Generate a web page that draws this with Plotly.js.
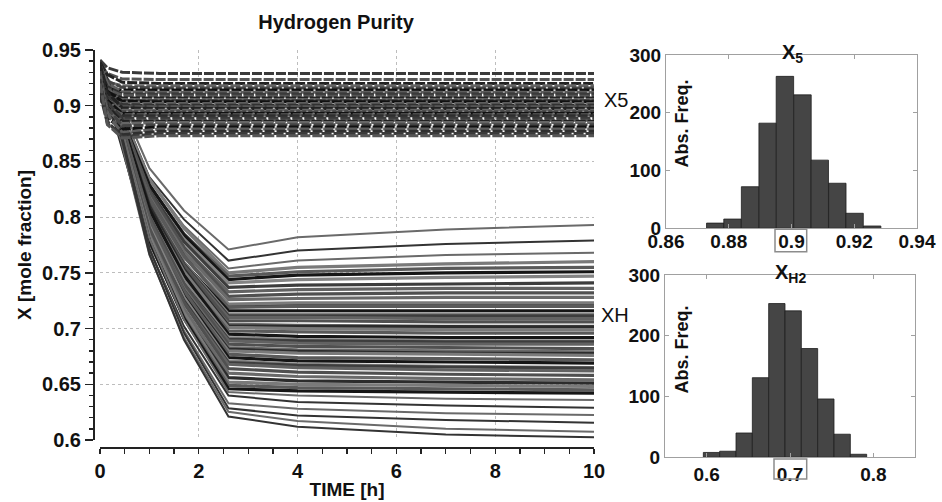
<!DOCTYPE html>
<html>
<head>
<meta charset="utf-8">
<script src="https://cdn.plot.ly/plotly-3.0.1.min.js"></script>
<style>html,body{margin:0;padding:0;background:#fff;}#chart{width:942px;height:502px;}</style>
</head>
<body>
<div id="chart"></div>
<script>
// ---------- DATA ----------
const chartTitle = 'Hydrogen Purity';
const xTitle = 'TIME [h]';
const yTitle = 'X [mole fraction]';
const xTicks = [0, 2, 4, 6, 8, 10];
const yTicks = [0.6, 0.65, 0.7, 0.75, 0.8, 0.85, 0.9, 0.95];
const seriesLabels = ['X5', 'XH'];
const seriesLabelY = [0.905, 0.712];

// XH2 trajectories (hydrogen mole fraction vs time)
const timeH2 = [0, 0.3, 1, 1.7, 2.6, 4, 7, 10];
const xh2Runs = [
  [0.935, 0.915, 0.844, 0.806, 0.771, 0.782, 0.789, 0.793],
  [0.930, 0.910, 0.836, 0.798, 0.761, 0.770, 0.776, 0.779],
  [0.926, 0.905, 0.834, 0.792, 0.754, 0.761, 0.766, 0.768],
  [0.938, 0.908, 0.834, 0.790, 0.750, 0.755, 0.758, 0.760],
  [0.921, 0.899, 0.828, 0.785, 0.747, 0.751, 0.754, 0.755],
  [0.933, 0.904, 0.829, 0.784, 0.744, 0.748, 0.750, 0.751],
  [0.918, 0.896, 0.823, 0.780, 0.741, 0.744, 0.746, 0.747],
  [0.927, 0.902, 0.824, 0.778, 0.737, 0.739, 0.740, 0.741],
  [0.912, 0.893, 0.818, 0.773, 0.733, 0.735, 0.736, 0.736],
  [0.936, 0.906, 0.823, 0.773, 0.729, 0.731, 0.732, 0.732],
  [0.924, 0.899, 0.818, 0.769, 0.726, 0.727, 0.728, 0.728],
  [0.929, 0.901, 0.816, 0.765, 0.7205, 0.721, 0.7212, 0.7215],
  [0.915, 0.892, 0.812, 0.764, 0.722, 0.723, 0.723, 0.723],
  [0.931, 0.903, 0.817, 0.765, 0.719, 0.720, 0.720, 0.720],
  [0.909, 0.889, 0.808, 0.759, 0.716, 0.716, 0.716, 0.716],
  [0.926, 0.898, 0.811, 0.759, 0.713, 0.713, 0.713, 0.713],
  [0.923, 0.897, 0.810, 0.758, 0.7115, 0.7115, 0.7115, 0.7115],
  [0.919, 0.894, 0.808, 0.756, 0.710, 0.710, 0.709, 0.709],
  [0.934, 0.905, 0.812, 0.756, 0.707, 0.707, 0.706, 0.706],
  [0.913, 0.890, 0.803, 0.750, 0.704, 0.703, 0.702, 0.702],
  [0.936, 0.905, 0.810, 0.753, 0.7025, 0.702, 0.7017, 0.7015],
  [0.929, 0.900, 0.806, 0.751, 0.701, 0.700, 0.699, 0.699],
  [0.917, 0.892, 0.801, 0.746, 0.698, 0.697, 0.696, 0.696],
  [0.938, 0.907, 0.807, 0.748, 0.695, 0.693, 0.692, 0.692],
  [0.921, 0.895, 0.800, 0.743, 0.692, 0.690, 0.689, 0.689],
  [0.913, 0.889, 0.796, 0.740, 0.6905, 0.689, 0.688, 0.688],
  [0.911, 0.888, 0.794, 0.739, 0.689, 0.687, 0.686, 0.686],
  [0.932, 0.903, 0.801, 0.740, 0.686, 0.684, 0.683, 0.682],
  [0.925, 0.897, 0.796, 0.736, 0.683, 0.681, 0.680, 0.679],
  [0.921, 0.893, 0.794, 0.734, 0.6815, 0.6795, 0.678, 0.6775],
  [0.914, 0.890, 0.791, 0.732, 0.680, 0.678, 0.677, 0.676],
  [0.936, 0.906, 0.798, 0.734, 0.677, 0.674, 0.673, 0.672],
  [0.920, 0.893, 0.790, 0.729, 0.674, 0.671, 0.670, 0.669],
  [0.928, 0.899, 0.792, 0.728, 0.671, 0.668, 0.666, 0.665],
  [0.917, 0.892, 0.787, 0.725, 0.6695, 0.667, 0.6655, 0.6645],
  [0.916, 0.889, 0.785, 0.723, 0.668, 0.665, 0.663, 0.662],
  [0.933, 0.902, 0.790, 0.723, 0.664, 0.661, 0.659, 0.658],
  [0.922, 0.894, 0.784, 0.718, 0.660, 0.657, 0.655, 0.654],
  [0.910, 0.886, 0.778, 0.713, 0.656, 0.653, 0.652, 0.651],
  [0.930, 0.900, 0.783, 0.714, 0.652, 0.650, 0.649, 0.648],
  [0.918, 0.892, 0.778, 0.710, 0.649, 0.647, 0.646, 0.645],
  [0.926, 0.897, 0.779, 0.709, 0.646, 0.644, 0.643, 0.642],
  [0.935, 0.903, 0.781, 0.708, 0.643, 0.640, 0.637, 0.636],
  [0.914, 0.888, 0.771, 0.702, 0.640, 0.634, 0.631, 0.629],
  [0.924, 0.895, 0.772, 0.698, 0.633, 0.628, 0.624, 0.6225],
  [0.931, 0.899, 0.772, 0.696, 0.6285, 0.622, 0.618, 0.6155],
  [0.919, 0.891, 0.766, 0.692, 0.6254, 0.617, 0.610, 0.6075],
  [0.927, 0.896, 0.767, 0.690, 0.621, 0.612, 0.605, 0.6024]
];

// X5 trajectories
const timeX5 = [0, 0.15, 0.45, 1.2, 10];
const x5Runs = [
  [0.941, 0.934, 0.930, 0.929, 0.929],
  [0.936, 0.929, 0.924, 0.9235, 0.9235],
  [0.939, 0.928, 0.921, 0.920, 0.920],
  [0.925, 0.921, 0.918, 0.918, 0.918],
  [0.933, 0.922, 0.9165, 0.916, 0.916],
  [0.918, 0.916, 0.914, 0.914, 0.914],
  [0.937, 0.920, 0.9125, 0.912, 0.912],
  [0.932, 0.917, 0.9105, 0.9105, 0.9105],
  [0.912, 0.911, 0.910, 0.910, 0.910],
  [0.930, 0.915, 0.909, 0.9085, 0.9085],
  [0.921, 0.912, 0.907, 0.907, 0.907],
  [0.917, 0.907, 0.9055, 0.9055, 0.9055],
  [0.908, 0.906, 0.905, 0.905, 0.905],
  [0.934, 0.913, 0.904, 0.9035, 0.9035],
  [0.915, 0.906, 0.902, 0.902, 0.902],
  [0.926, 0.908, 0.901, 0.9005, 0.9005],
  [0.928, 0.909, 0.900, 0.8995, 0.8995],
  [0.905, 0.901, 0.899, 0.899, 0.899],
  [0.938, 0.912, 0.898, 0.8975, 0.8975],
  [0.919, 0.903, 0.896, 0.896, 0.896],
  [0.910, 0.899, 0.8945, 0.8945, 0.8945],
  [0.929, 0.905, 0.893, 0.893, 0.893],
  [0.913, 0.900, 0.892, 0.892, 0.892],
  [0.914, 0.897, 0.891, 0.891, 0.891],
  [0.935, 0.903, 0.889, 0.889, 0.889],
  [0.907, 0.893, 0.887, 0.887, 0.887],
  [0.936, 0.899, 0.886, 0.886, 0.886],
  [0.923, 0.896, 0.884, 0.885, 0.885],
  [0.931, 0.898, 0.882, 0.883, 0.883],
  [0.916, 0.889, 0.879, 0.881, 0.881],
  [0.927, 0.892, 0.876, 0.879, 0.879],
  [0.911, 0.884, 0.874, 0.877, 0.877],
  [0.924, 0.886, 0.872, 0.875, 0.875],
  [0.920, 0.883, 0.871, 0.873, 0.873]
];

// Histograms (absolute frequency of final values)
const hist5Title = 'X<sub>5</sub>';
const hist5Centers = [0.8757, 0.8812, 0.8868, 0.8924, 0.8979, 0.9035, 0.9090, 0.9146, 0.9201, 0.9257];
const hist5Counts  = [9, 16, 72, 182, 263, 231, 118, 78, 26, 4];
const hist5XTicks = [0.86, 0.88, 0.9, 0.92, 0.94];
const histH2Title = 'X<sub>H2</sub>';
const histH2Centers = [0.6058, 0.6254, 0.6450, 0.6646, 0.6842, 0.7038, 0.7234, 0.7430, 0.7626, 0.7822];
const histH2Counts  = [8, 10, 40, 131, 253, 241, 179, 96, 38, 5];
const histH2XTicks = [0.6, 0.7, 0.8];
const histYTicks = [0, 100, 200, 300];
const histYLabel = 'Abs. Freq.';

// ---------- STYLE / LAYOUT ----------
const W = 942, H = 502;
const px = v => v / W;
const py = v => 1 - v / H;
const FONT = 'Liberation Sans, Arial, Helvetica, sans-serif';
const grays = ['#505050', '#6a6a6a', '#2c2c2c', '#7a7a7a', '#5a5a5a', '#161616', '#848484', '#3d3d3d', '#626262'];
const darkGrays = ['#3a3a3a', '#555555', '#222222', '#666666', '#444444', '#111111', '#5e5e5e', '#2f2f2f'];
const nH2 = xh2Runs.length;

const traces = [];
xh2Runs.forEach((run, i) => {
  const outlier = i < 3 || i >= nH2 - 6;
  traces.push({
    type: 'scatter', mode: 'lines', x: timeH2, y: run,
    xaxis: 'x', yaxis: 'y', showlegend: false, hoverinfo: 'skip',
    line: {color: outlier ? (i % 2 ? '#333333' : '#6a6a6a') : grays[i % grays.length], width: outlier ? 2 : 3.2}
  });
});
x5Runs.forEach((run, i) => {
  traces.push({
    type: 'scatter', mode: 'lines', x: timeX5, y: run,
    xaxis: 'x', yaxis: 'y', showlegend: false, hoverinfo: 'skip',
    line: {color: darkGrays[i % darkGrays.length], width: 3, dash: '10px,2px'}
  });
});
traces.push({
  type: 'bar', x: hist5Centers, y: hist5Counts, width: 0.00556,
  xaxis: 'x2', yaxis: 'y2', showlegend: false, hoverinfo: 'skip',
  marker: {color: '#454545', line: {color: '#1e1e1e', width: 0.8}}
});
traces.push({
  type: 'bar', x: histH2Centers, y: histH2Counts, width: 0.0196,
  xaxis: 'x3', yaxis: 'y3', showlegend: false, hoverinfo: 'skip',
  marker: {color: '#454545', line: {color: '#1e1e1e', width: 0.8}}
});

const boldTick = (s) => ({family: FONT, size: s, color: '#111', weight: 700});
const histX = (dom, range, vals, anchor, standoff) => ({
  domain: dom, anchor: anchor, range: range, tickmode: 'array', tickvals: vals,
  ticks: 'inside', ticklen: 4, tickcolor: '#a0a0a0', showline: true, linecolor: '#a0a0a0',
  linewidth: 1, mirror: 'ticks', showgrid: false, zeroline: false, tickfont: boldTick(19),
  ticklabelstandoff: standoff, fixedrange: true
});
const histY = (dom, anchor) => ({
  domain: dom, anchor: anchor, range: [0, 300], tickmode: 'array', tickvals: histYTicks,
  ticks: 'inside', ticklen: 4, tickcolor: '#a0a0a0', showline: true, linecolor: '#a0a0a0',
  linewidth: 1, mirror: 'ticks', showgrid: false, zeroline: false, tickfont: boldTick(19),
  fixedrange: true
});

const layout = {
  width: W, height: H, autosize: false,
  margin: {l: 0, r: 0, t: 0, b: 0, pad: 0},
  paper_bgcolor: '#ffffff', plot_bgcolor: '#ffffff',
  showlegend: false,
  font: {family: FONT, color: '#111'},
  title: {text: chartTitle, font: {family: FONT, size: 20, weight: 700, color: '#111'},
          x: px(336), xanchor: 'center', y: py(22), yanchor: 'middle'},
  xaxis: {
    domain: [px(100), px(594)], anchor: 'free', position: py(447),
    range: [0, 10], tickmode: 'array', tickvals: xTicks,
    ticks: 'outside', ticklen: 5, tickwidth: 1.3, tickcolor: '#222',
    minor: {tickmode: 'linear', tick0: 0, dtick: 0.5, ticks: 'outside', ticklen: 5, tickwidth: 1.3, tickcolor: '#222', showgrid: false},
    showline: true, linecolor: '#222', linewidth: 1.5,
    showgrid: true, gridcolor: '#bdbdbd', griddash: 'dot', gridwidth: 1, zeroline: false,
    tickfont: boldTick(20),
    title: {text: xTitle, font: {family: FONT, size: 19, weight: 700, color: '#111'}, standoff: 2},
    fixedrange: true
  },
  yaxis: {
    domain: [py(440), py(50)], anchor: 'free', position: px(93),
    range: [0.6, 0.95], tickmode: 'array', tickvals: yTicks,
    ticks: 'outside', ticklen: 8, tickwidth: 1.3, tickcolor: '#222',
    minor: {tickmode: 'linear', tick0: 0.6, dtick: 0.01, ticks: 'outside', ticklen: 4, tickwidth: 1.3, tickcolor: '#222', showgrid: false},
    showline: true, linecolor: '#222', linewidth: 1.5,
    showgrid: true, gridcolor: '#bdbdbd', griddash: 'dot', gridwidth: 1, zeroline: false,
    tickfont: boldTick(20),
    title: {text: yTitle, font: {family: FONT, size: 19, weight: 700, color: '#111'}, standoff: 4},
    fixedrange: true
  },
  xaxis2: histX([px(666), px(917)], [0.86, 0.94], hist5XTicks, 'y2', -4),
  yaxis2: histY([py(228.3), py(55)], 'x2'),
  xaxis3: histX([px(665), px(915)], [0.55, 0.85], histH2XTicks, 'y3', 0),
  yaxis3: histY([py(457.3), py(275)], 'x3'),
  annotations: [
    {text: seriesLabels[0], xref: 'paper', yref: 'y', x: px(602), y: seriesLabelY[0],
     xanchor: 'left', yanchor: 'middle', showarrow: false, font: {family: FONT, size: 20, color: '#111'}},
    {text: seriesLabels[1], xref: 'paper', yref: 'y', x: px(599), y: seriesLabelY[1],
     xanchor: 'left', yanchor: 'middle', showarrow: false, font: {family: FONT, size: 20, color: '#111'}},
    {text: '<b>' + hist5Title + '</b>', xref: 'paper', yref: 'paper', x: px(792), y: py(53),
     xanchor: 'center', yanchor: 'middle', showarrow: false, font: {family: FONT, size: 20, color: '#111'}},
    {text: '<b>' + histH2Title + '</b>', xref: 'paper', yref: 'paper', x: px(790), y: py(273.5),
     xanchor: 'center', yanchor: 'middle', showarrow: false, font: {family: FONT, size: 20, color: '#111'}},
    {text: '<b>' + histYLabel + '</b>', xref: 'paper', yref: 'paper', x: px(681.5), y: py(124),
     xanchor: 'center', yanchor: 'middle', textangle: -90, showarrow: false, font: {family: FONT, size: 18, color: '#111'}},
    {text: '<b>' + histYLabel + '</b>', xref: 'paper', yref: 'paper', x: px(681.5), y: py(350),
     xanchor: 'center', yanchor: 'middle', textangle: -90, showarrow: false, font: {family: FONT, size: 18, color: '#111'}}
  ],
  shapes: [
    {type: 'rect', xref: 'paper', yref: 'paper', x0: px(775), x1: px(806.7), y0: py(251.7), y1: py(229.3),
     line: {color: '#8c8c8c', width: 1.5}, fillcolor: 'rgba(0,0,0,0)'},
    {type: 'rect', xref: 'paper', yref: 'paper', x0: px(774), x1: px(806.7), y0: py(479), y1: py(459),
     line: {color: '#8c8c8c', width: 1.5}, fillcolor: 'rgba(0,0,0,0)'}
  ]
};

Plotly.newPlot('chart', traces, layout, {staticPlot: true, displayModeBar: false});
</script>
</body>
</html>
